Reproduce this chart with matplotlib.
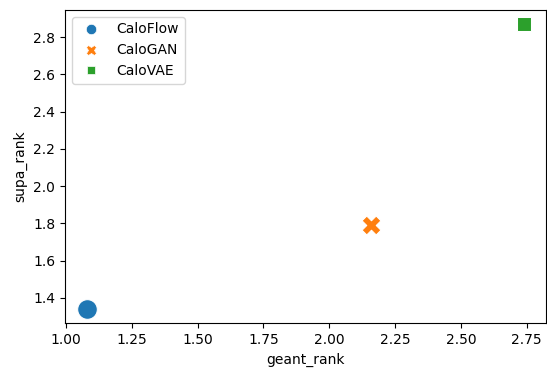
"""
Rank comparison of calorimeter generative models.
"""

import matplotlib
matplotlib.use("Agg")

import matplotlib.pyplot as plt
from matplotlib.lines import Line2D


MODELS = ["CaloFlow", "CaloGAN", "CaloVAE"]
GEANT_RANK = [1.08, 2.16, 2.74]
SUPA_RANK = [1.34, 1.79, 2.87]

COLORS = ["#1f77b4", "#ff7f0e", "#2ca02c"]
MARKERS = ["o", "X", "s"]
SIZES = [200, 185, 95]


def main():
    fig = plt.figure(figsize=(5.47, 3.68), dpi=100)
    ax = fig.add_axes([0.119, 0.1215, 0.879, 0.8515])

    for name, x, y, color, marker, size in zip(
        MODELS, GEANT_RANK, SUPA_RANK, COLORS, MARKERS, SIZES
    ):
        ax.scatter(
            [x],
            [y],
            s=size,
            c=color,
            marker=marker,
            edgecolors="white",
            linewidths=0.75,
            label=name,
        )

    handles = [
        Line2D(
            [],
            [],
            linestyle="none",
            marker=marker,
            color=color,
            markeredgecolor="white",
            markeredgewidth=0.5,
            markersize=ms,
        )
        for color, marker, ms in zip(COLORS, MARKERS, [7.5, 7.5, 6])
    ]

    ax.legend(handles, MODELS, loc="upper left")

    ax.set_xlabel("geant_rank")
    ax.set_ylabel("supa_rank")

    fig.savefig("out.png", dpi=100)
    plt.close(fig)


if __name__ == "__main__":
    main()
